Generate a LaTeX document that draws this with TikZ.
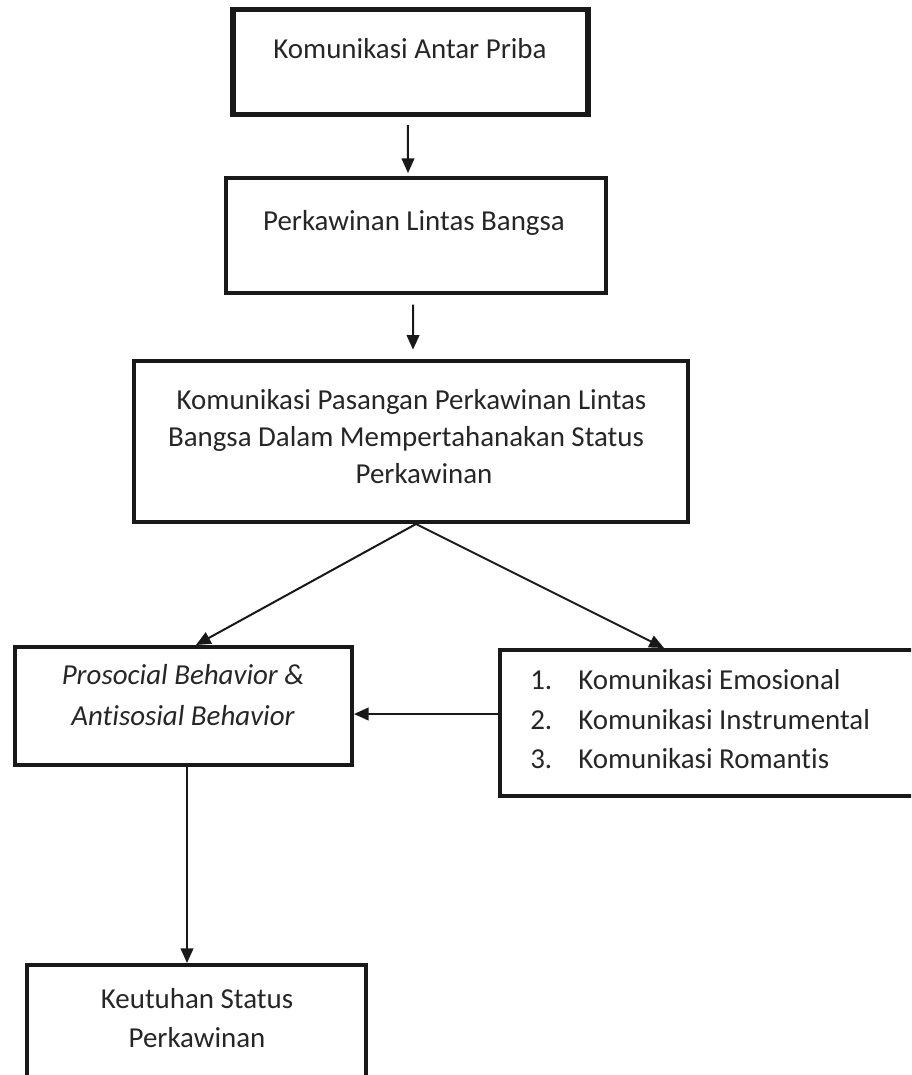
\documentclass[tikz,border=0pt]{standalone}
\usepackage{fontspec}
\setmainfont{Carlito}[Ligatures={NoCommon}]
\usetikzlibrary{arrows.meta,calc}
\begin{document}
\begin{tikzpicture}[x=0.75pt,y=-0.75pt,
  box/.style={draw=black!90, rectangle, inner sep=0pt, line width=3.4pt},
  lbl/.style={anchor=base, inner sep=0pt, font=\fontsize{21.7pt}{27pt}\selectfont, text=black!85},
  lblw/.style={lbl, anchor=base west},
  arr/.style={draw=black!90, line width=1.5pt, -{Triangle[length=11pt,width=9.5pt]}}]
\useasboundingbox (0,0) rectangle (911,1075);
\clip (0,0) rectangle (911,1075);
% boxes
\node[box, line width=3.8pt, minimum width={355*0.75pt}, minimum height={105*0.75pt}] (b1) at (410.5,62) {};
\node[box, minimum width={380*0.75pt}, minimum height={115*0.75pt}] (b2) at (416,235.5) {};
\node[box, line width=3pt, minimum width={554*0.75pt}, minimum height={161*0.75pt}] (b3) at (411,441.5) {};
\node[box, line width=3pt, minimum width={337*0.75pt}, minimum height={118*0.75pt}] (b4) at (183.5,706) {};
\node[box, line width=3pt, minimum width={440*0.75pt}, minimum height={146*0.75pt}] (b5) at (720,723) {};
\node[box, line width=3pt, minimum width={339*0.75pt}, minimum height={150*0.75pt}] (b6) at (196.5,1040) {};
% texts
\node[lbl] (t1) at (410,58) {Komunikasi Antar Priba};
\node[lbl] (t2) at (414,230) {Perkawinan Lintas Bangsa};
\node[lbl] (t3a) at (411.5,409) {Komunikasi Pasangan Perkawinan Lintas};
\node[lbl] (t3b) at (406,446) {Bangsa Dalam Mempertahanakan Status};
\node[lbl] (t3c) at (424,483) {Perkawinan};
\node[lbl, font=\fontsize{21.7pt}{27pt}\selectfont\itshape] (t4a) at (183,684) {Prosocial Behavior \&};
\node[lbl, font=\fontsize{21.7pt}{27pt}\selectfont\itshape] (t4b) at (183,725) {Antisosial Behavior};
\node[lblw] (n1) at (530,689) {1.};
\node[lblw] (t5a) at (578,689) {Komunikasi Emosional};
\node[lblw] (n2) at (530,729) {2.};
\node[lblw] (t5b) at (578,729) {Komunikasi Instrumental};
\node[lblw] (n3) at (530,768) {3.};
\node[lblw] (t5c) at (578,768) {Komunikasi Romantis};
\node[lbl] (t6a) at (197,1008) {Keutuhan Status};
\node[lbl] (t6b) at (197,1047) {Perkawinan};
% connectors
\draw[arr] ([xshift=-1.9pt,yshift=-6pt]b1.south) -- ([xshift=-6pt,yshift=2pt]b2.north);
\draw[arr] ([xshift=-2.2pt,yshift=-7pt]b2.south) -- ([xshift=1.5pt,yshift=7pt]b3.north);
\coordinate (ap) at ($(b3.south)+(5,0)$);
\draw[arr] (ap) -- (b4.north -| 196,0);
\draw[arr] (ap) -- (b5.north -| 664,0);
\draw[arr] (b5.west |- 0,714) -- (b4.east |- 0,714);
\draw[arr] (b4.south -| 187,0) -- (b6.north -| 187,0);
\end{tikzpicture}
\end{document}
